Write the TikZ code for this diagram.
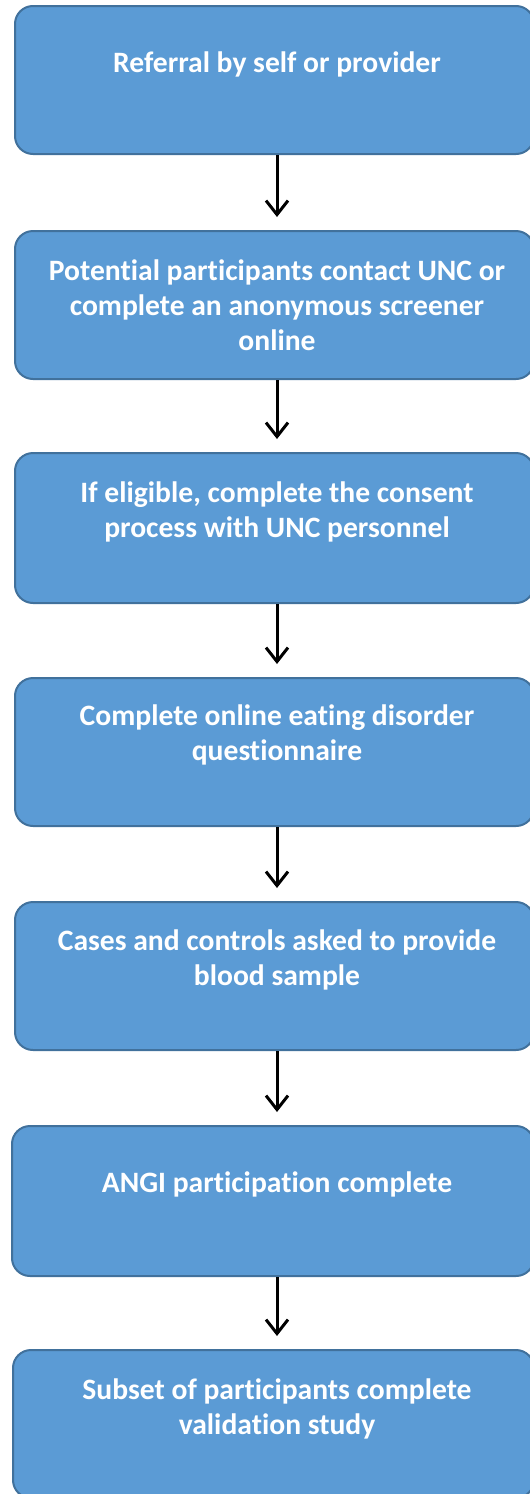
\documentclass[tikz,border=0pt]{standalone}
\usepackage{fontspec}
\setmainfont{Carlito}[RawFeature=-liga]
\usetikzlibrary{arrows.meta,calc}
\definecolor{boxfill}{HTML}{5B9BD5}
\definecolor{boxline}{HTML}{41719C}
\tikzset{
  stepbox/.style={draw=boxline, line width=2pt, fill=boxfill, rounded corners=18pt, inner sep=0pt},
  steptext/.style={text=white, font=\fontsize{29.6}{35}\selectfont\bfseries, align=center, anchor=base, inner sep=0pt},
  arr/.style={line width=3pt, -{Straight Barb[length=14pt,width=22pt,line width=3pt]}}
}
\begin{document}
\begin{tikzpicture}[x=1pt,y=-1pt]
\useasboundingbox (0,0) rectangle (530,1494);
\begin{scope}
\clip (0,0) rectangle (530,1494);
\node[stepbox, minimum width=519pt, minimum height=148pt, anchor=north west] (b1) at (14,5) {};
\node[stepbox, minimum width=519pt, minimum height=148pt, anchor=north west] (b2) at (14,230) {};
\node[stepbox, minimum width=519pt, minimum height=150pt, anchor=north west] (b3) at (14,452) {};
\node[stepbox, minimum width=519pt, minimum height=148pt, anchor=north west] (b4) at (14,677) {};
\node[stepbox, minimum width=519pt, minimum height=148pt, anchor=north west] (b5) at (14,901) {};
\node[stepbox, minimum width=522pt, minimum height=150pt, anchor=north west] (b6) at (11,1125) {};
\node[stepbox, minimum width=521pt, minimum height=148pt, anchor=north west] (b7) at (12,1349) {};
\end{scope}
% anchor=base is the baseline of the last line
\node[steptext] (t1) at (277,72) {Referral by self or provider};
\node[steptext] (t2) at (277,350) {Potential participants contact UNC or\\complete an anonymous screener\\online};
\node[steptext] (t3) at (277,537) {If eligible, complete the consent\\process with UNC personnel};
\node[steptext] (t4) at (277,760) {Complete online eating disorder\\questionnaire};
\node[steptext] (t5) at (277,985) {Cases and controls asked to provide\\blood sample};
\node[steptext] (t6) at (277,1192) {ANGI participation complete};
\node[steptext] (t7) at (277,1434) {Subset of participants complete\\validation study};
\foreach \a/\b in {b1/b2,b2/b3,b3/b4,b4/b5,b5/b6,b6/b7}{
  \draw[arr] (\a.south -| 277,0) -- ($(\b.north -| 277,0)+(0,-13)$);
}
\end{tikzpicture}
\end{document}
